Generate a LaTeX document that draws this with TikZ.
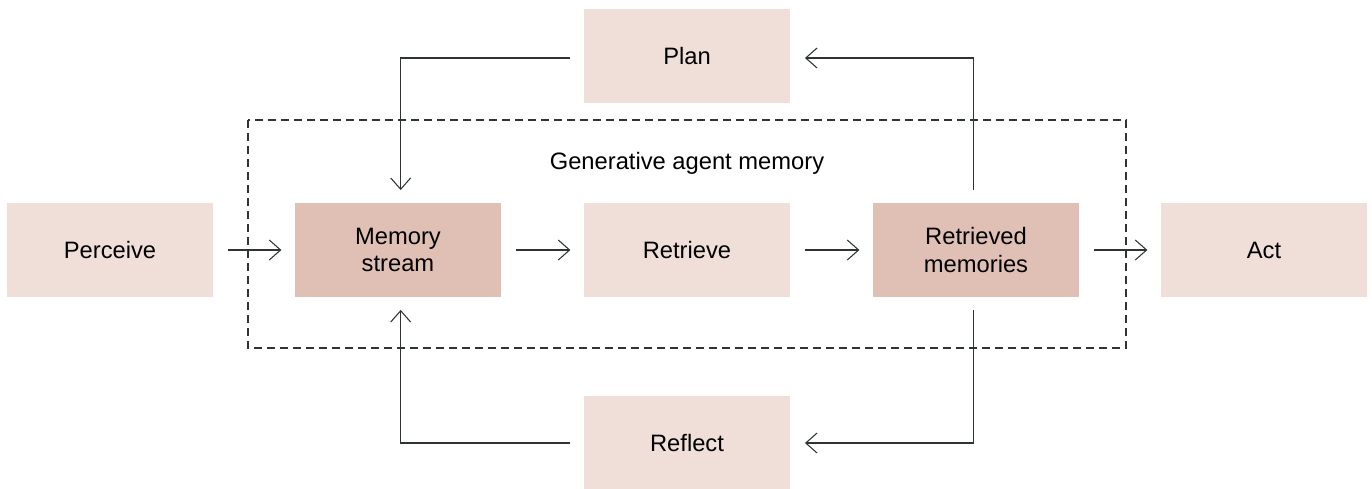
\documentclass[tikz,border=0pt]{standalone}
\usepackage{fontspec}
\setmainfont{Liberation Sans}
\usetikzlibrary{arrows.meta}
\definecolor{light}{HTML}{EFDFD8}
\definecolor{dark}{HTML}{E0C0B5}
\definecolor{ink}{HTML}{2E3436}
\begin{document}
\begin{tikzpicture}[x=0.75pt,y=-0.75pt,
  box/.style={minimum width=154.5pt,minimum height=70.5pt,inner sep=0pt,align=center,font=\fontsize{17.8}{20.5}\selectfont,text=black},
  lbox/.style={box,fill=light},
  dbox/.style={box,fill=dark},
  conn/.style={draw=ink,line width=0.8pt,-{Straight Barb[length=8.5pt,width=15pt,line width=0.8pt]}}]
\useasboundingbox (0,0) rectangle (1372,489);
\node[lbox] (perceive) at (110,250) {Perceive};
\node[dbox] (mem) at (398,250) {Memory\\stream};
\node[lbox] (retrieve) at (687,250) {Retrieve};
\node[dbox] (rm) at (976,250) {Retrieved\\memories};
\node[lbox] (act) at (1264,250) {Act};
\node[lbox] (plan) at (687,56) {Plan};
\node[lbox] (reflect) at (687,443) {Reflect};
\draw[ink,line width=0.8pt,dash pattern=on 6pt off 3.75pt] (248,120) rectangle (1126,348);
\node[font=\fontsize{17.8}{20.5}\selectfont] (lbl) at (687,163) {Generative agent memory};
\draw[conn] ([xshift=11pt]perceive.east) -- ([xshift=-10pt]mem.west);
\draw[conn] ([xshift=11pt]mem.east) -- ([xshift=-10pt]retrieve.west);
\draw[conn] ([xshift=11pt]retrieve.east) -- ([xshift=-10pt]rm.west);
\draw[conn] ([xshift=11pt]rm.east) -- ([xshift=-10pt]act.west);
\draw[conn] ([xshift=-10pt,yshift=-1.5pt]plan.west) -| ([xshift=2pt,yshift=9.5pt]mem.north);
\draw[conn] ([xshift=-2pt,yshift=9.5pt]rm.north) |- ([xshift=11pt,yshift=-1.5pt]plan.east);
\draw[conn] ([xshift=-2pt,yshift=-9.5pt]rm.south) |- ([xshift=11pt]reflect.east);
\draw[conn] ([xshift=-10pt]reflect.west) -| ([xshift=2pt,yshift=-9.5pt]mem.south);
\end{tikzpicture}
\end{document}
